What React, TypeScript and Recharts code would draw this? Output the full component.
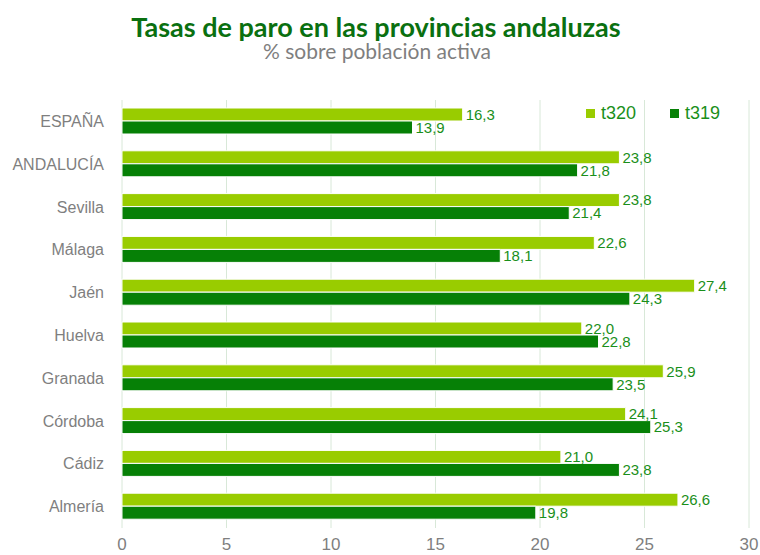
import { BarChart, Bar, XAxis, YAxis, CartesianGrid, LabelList } from "recharts"

const provincias = ["ESPAÑA", "ANDALUCÍA", "Sevilla", "Málaga", "Jaén", "Huelva", "Granada", "Córdoba", "Cádiz", "Almería"]
const t320 = [16.3, 23.8, 23.8, 22.6, 27.4, 22.0, 25.9, 24.1, 21.0, 26.6]
const t319 = [13.9, 21.8, 21.4, 18.1, 24.3, 22.8, 23.5, 25.3, 23.8, 19.8]
const xTicks = [0, 5, 10, 15, 20, 25, 30]

const light = "#99cc00"
const dark = "#068006"
const labelGreen = "#1a8f1a"
const grey = "#7f7f7f"
const sans = "'Liberation Sans', Arial, sans-serif"

const data = provincias.map((name, i) => ({ name, t320: t320[i], t319: t319[i] }))

const fmt = (v: any) => Number(v).toFixed(1).replace(".", ",")

function LegendBox() {
  const items = [
    { key: "t320", color: light },
    { key: "t319", color: dark },
  ]
  return (
    <div
      style={{
        position: "absolute",
        top: 102,
        left: 586,
        display: "flex",
        fontFamily: sans,
        fontSize: 18,
        color: labelGreen,
        lineHeight: "22px",
      }}
    >
      {items.map((it) => (
        <div key={it.key} style={{ display: "flex", alignItems: "center", width: 84 }}>
          <span style={{ width: 9, height: 9, background: it.color, display: "inline-block", marginRight: 6 }} />
          <span>{it.key}</span>
        </div>
      ))}
    </div>
  )
}

export default function App() {
  return (
    <div style={{ position: "absolute", left: 0, top: 0, width: 760, height: 555, background: "#fff" }}>
      <div
        style={{
          position: "absolute",
          top: 13,
          left: 0,
          width: 752,
          textAlign: "center",
          fontFamily: "Lato, 'Open Sans', sans-serif",
          fontWeight: 700,
          fontSize: 27,
          color: "#0a7010",
          lineHeight: "27px",
        }}
      >
        Tasas de paro en las provincias andaluzas
      </div>
      <div
        style={{
          position: "absolute",
          top: 40,
          left: 0,
          width: 754,
          textAlign: "center",
          fontFamily: "Lato, 'Open Sans', sans-serif",
          fontSize: 21,
          color: grey,
          lineHeight: "21px",
        }}
      >
        % sobre población activa
      </div>
      <BarChart
        width={760}
        height={555}
        data={data}
        layout="vertical"
        margin={{ top: 100, right: 11, bottom: 0, left: 0 }}
        barSize={13}
        barGap={0}
      >
        <CartesianGrid horizontal={false} stroke="#d8e8d8" />
        <XAxis
          type="number"
          domain={[0, 30]}
          ticks={xTicks}
          axisLine={false}
          tickLine={false}
          height={27}
          tickMargin={4}
          tick={{ fill: grey, fontFamily: sans, fontSize: 17 }}
        />
        <YAxis
          type="category"
          dataKey="name"
          width={122}
          axisLine={false}
          tickLine={false}
          tickMargin={12}
          tick={{ fill: grey, fontFamily: sans, fontSize: 16 }}
        />
        <Bar dataKey="t320" fill={light} stroke="#fff" strokeWidth={1} isAnimationActive={false}>
          <LabelList dataKey="t320" position="right" offset={3} formatter={fmt} fill={labelGreen} style={{ fontFamily: sans, fontSize: 15 }} />
        </Bar>
        <Bar dataKey="t319" fill={dark} stroke="#fff" strokeWidth={1} isAnimationActive={false}>
          <LabelList dataKey="t319" position="right" offset={3} formatter={fmt} fill={labelGreen} style={{ fontFamily: sans, fontSize: 15 }} />
        </Bar>
      </BarChart>
      <LegendBox />
    </div>
  )
}
